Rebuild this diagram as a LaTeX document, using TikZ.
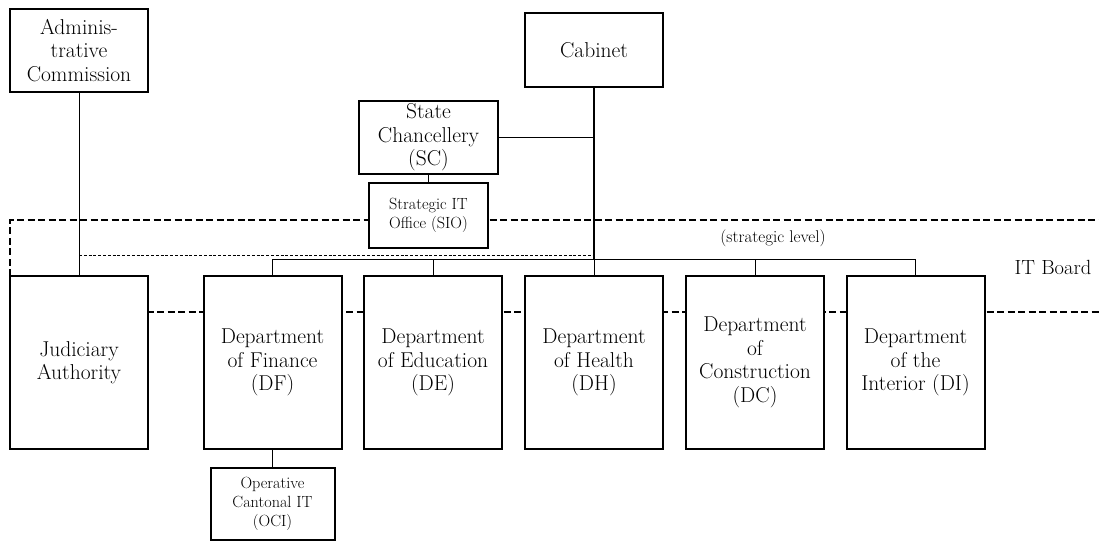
\documentclass[tikz,border=0pt]{standalone}
\usepackage{fontspec}
\newcommand\orgmain{\fontsize{21.5}{23.5}\selectfont}
\newcommand\orgsmall{\fontsize{16.2}{19}\selectfont}
\newcommand\orgnote{\fontsize{17}{19}\selectfont}
\newcommand\orgboard{\fontsize{20.5}{23}\selectfont}
\begin{document}
\begin{tikzpicture}[x=1pt,y=-1pt,
  unit/.style={draw, line width=2pt, fill=white, inner sep=0pt, align=center, font=\orgmain},
  dept/.style={unit, minimum width=138pt, minimum height=173pt},
  office/.style={unit, font=\orgsmall},
  link/.style={line width=1pt},
  trunk/.style={line width=1.6pt},
  boardline/.style={line width=2pt, dash pattern=on 7pt off 3.5pt},
  stratline/.style={line width=0.8pt, dash pattern=on 3pt off 1.8pt}]
\useasboundingbox (0,0) rectangle (1099,541);

% IT Board frame (behind the boxes)
\coordinate (boardTL) at (10,220);
\coordinate (boardTR) at (1099,220);
\coordinate (boardBL) at (10,312);
\coordinate (boardBR) at (1099,312);
\coordinate (boardLL) at (10,276);
\draw[boardline] (boardLL) -- (boardTL) -- (boardTR);
\draw[boardline] (boardBL) -- (boardBR);

% top level
\node[unit, minimum width=138pt, minimum height=83pt] (admin) at (79,50.5) {Adminis-\\trative\\Commission};
\node[unit, minimum width=138pt, minimum height=74pt] (cab) at (594,50) {Cabinet};
\node[unit, minimum width=139pt, minimum height=73pt] (sc) at (428.5,137.5) {State\\Chancellery\\(SC)};
\node[office, minimum width=119pt, minimum height=65pt] (sio) at (428.5,215.5) {Strategic IT\\Office (SIO)};

% departments
\node[dept] (jud) at (79,362.5) {Judiciary\\Authority};
\node[dept] (df) at (272.5,362.5) {Department\\of Finance\\(DF)};
\node[dept] (de) at (433,362.5) {Department\\of Education\\(DE)};
\node[dept] (dh) at (594,362.5) {Department\\of Health\\(DH)};
\node[dept] (dc) at (755,362.5) {Department\\of\\Construction\\(DC)};
\node[dept] (di) at (915.5,362.5) {Department\\of the\\Interior (DI)};

\node[office, minimum width=124pt, minimum height=72pt] (oci) at (272.5,504) {Operative\\Cantonal IT\\(OCI)};

% labels
\node[font=\orgnote] (strat) at (773,238) {(strategic level)};
\node[font=\orgboard] (board) at (1053,267) {IT Board};

% connectors
\coordinate (bus) at (0,259);
\coordinate (stratrow) at (0,255);
\draw[link] (admin.south) -- (jud.north);
\draw[stratline] (admin.south |- stratrow) -- (cab.south |- stratrow);
\draw[trunk] (cab.south) -- (cab.south |- bus);
\draw[link] (cab.south |- bus) -- (dh.north);
\draw[link] (sc.east) -- (sc.east -| cab.south);
\draw[link] (sc.south) -- (sio.north);
\draw[link] (df.north) -- (df.north |- bus) -| (di.north);
\draw[link] (de.north) -- (de.north |- bus);
\draw[link] (dc.north) -- (dc.north |- bus);
\draw[trunk] (df.south) -- (oci.north);
\end{tikzpicture}
\end{document}
